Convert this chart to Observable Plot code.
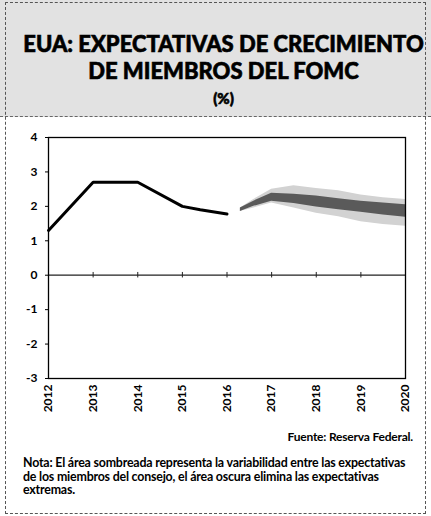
<!DOCTYPE html>
<html><head><meta charset="utf-8">
<script src="https://cdn.jsdelivr.net/npm/d3@7"></script>
<script src="https://cdn.jsdelivr.net/npm/@observablehq/plot@0.6"></script>
<style>
body{margin:0;background:#fff;font-family:Lato,"Open Sans",sans-serif;}
#wrap{position:relative;width:431px;height:516px;overflow:hidden;}
#box{position:absolute;left:5px;top:2px;width:421px;height:512px;border:1px dashed #555;box-sizing:border-box;}
#head{position:absolute;left:0;top:0;width:431px;height:116px;background:#e2e2e2;border-bottom:1px dashed #666;}
.t{position:absolute;left:8px;width:431px;text-align:center;font-weight:900;color:#000;-webkit-text-stroke:0.6px #000;}
#chart{position:absolute;left:0;top:118px;}
#src{position:absolute;right:18px;top:429px;font-size:12px;font-weight:700;letter-spacing:-0.2px;}
#note{position:absolute;left:23px;top:456px;font-size:12.4px;line-height:13.5px;font-weight:700;letter-spacing:-0.2px;white-space:nowrap;}
</style></head>
<body><div id="wrap">
<div id="head">
<div class="t" style="top:30px;font-size:22px;">EUA: EXPECTATIVAS DE CRECIMIENTO</div>
<div class="t" style="top:57px;font-size:22px;">DE MIEMBROS DEL FOMC</div>
<div class="t" style="top:89px;font-size:15px">(%)</div>
</div>
<div id="box"></div>
<div id="chart"></div>
<div id="src">Fuente: Reserva Federal.</div>
<div id="note">Nota: El área sombreada representa la variabilidad entre las expectativas<br>de los miembros del consejo, el área oscura elimina las expectativas<br>extremas.</div>
</div>
<script>
const histYears = [2012, 2013, 2014, 2015, 2015.4, 2016];
const histGrowth = [1.3, 2.7, 2.7, 2.0, 1.9, 1.78];
const bandYears = [2016.3, 2016.6, 2017, 2017.5, 2018, 2018.5, 2019, 2019.5, 2020];
const lightLo = [1.85, 1.95, 2.1, 1.95, 1.8, 1.7, 1.55, 1.47, 1.42];
const lightHi = [1.95, 2.2, 2.5, 2.6, 2.52, 2.45, 2.33, 2.25, 2.2];
const darkLo = [1.85, 2.0, 2.15, 2.08, 1.98, 1.9, 1.83, 1.75, 1.68];
const darkHi = [1.95, 2.15, 2.38, 2.35, 2.3, 2.22, 2.15, 2.1, 2.05];
const tickYears = [2012, 2013, 2014, 2015, 2016, 2017, 2018, 2019, 2020];
const yTicks = [-3, -2, -1, 0, 1, 2, 3, 4];

const hist = histYears.map((x, i) => ({x, y: histGrowth[i]}));
const band = bandYears.map((x, i) => ({x, l1: lightLo[i], l2: lightHi[i], d1: darkLo[i], d2: darkHi[i]}));

const plot = Plot.plot({
  width: 431, height: 310,
  marginTop: 19, marginBottom: 50, marginLeft: 48, marginRight: 26,
  style: {fontFamily: "Lato, sans-serif", fontWeight: 700, fontSize: "12px", color: "#000", background: "transparent"},
  x: {domain: [2012, 2020]},
  y: {domain: [-3, 4]},
  marks: [
    Plot.areaY(band, {x: "x", y1: "l1", y2: "l2", fill: "#d2d2d2"}),
    Plot.areaY(band, {x: "x", y1: "d1", y2: "d2", fill: "#5a5a5a"}),
    Plot.ruleY([0], {stroke: "#222", strokeWidth: 1.2}),
    Plot.ruleX(tickYears, {y1: -0.08, y2: 0.08, stroke: "#222"}),
    Plot.line(hist, {x: "x", y: "y", stroke: "#000", strokeWidth: 3}),
    Plot.frame({stroke: "#000", strokeWidth: 1.3}),
    Plot.axisY({ticks: yTicks, tickFormat: d => String(d), tickSize: 3, tickPadding: 8, anchor: "left", fontSize: 12, label: null}),
    Plot.axisX({ticks: tickYears, tickFormat: d => String(d), tickSize: 0, tickPadding: 6, tickRotate: -90, anchor: "bottom", fontSize: 12, label: null})
  ]
});
document.getElementById("chart").appendChild(plot);
</script>
</body></html>
